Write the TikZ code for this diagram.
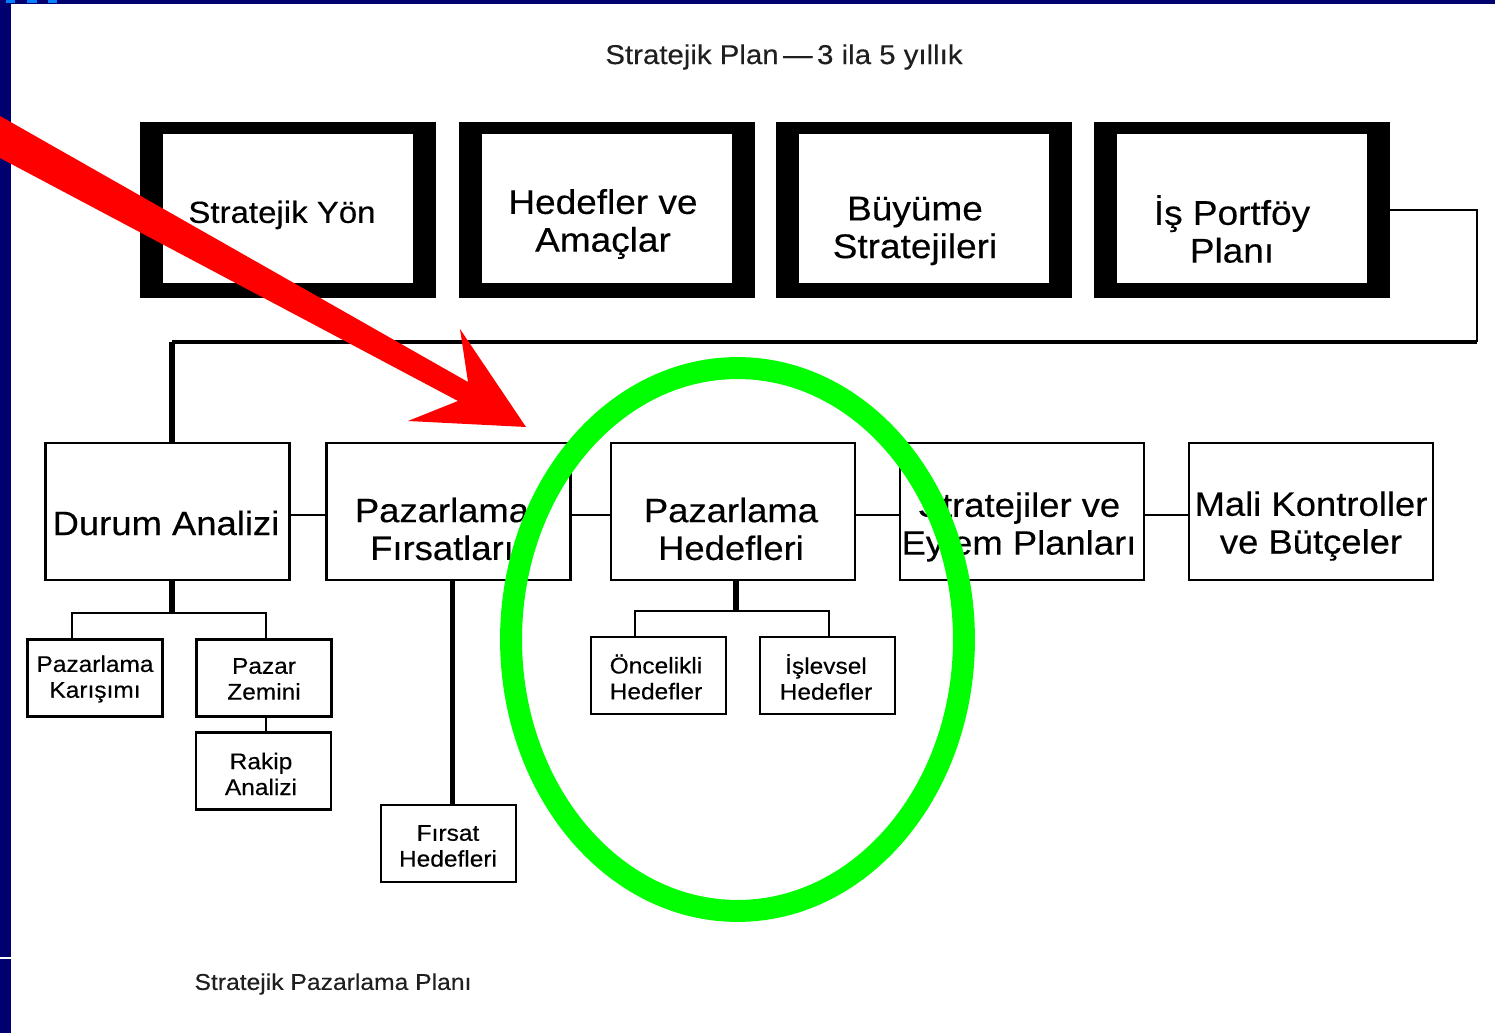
\documentclass[tikz,border=0pt]{standalone}
\usepackage{fontspec}
\newfontfamily\af{Liberation Sans}[FakeStretch=1.08, FakeBold=0.3]
\definecolor{navy}{RGB}{0,0,110}
\definecolor{lblue}{RGB}{0,128,255}
\definecolor{gr}{RGB}{0,255,0}
\begin{document}
\begin{tikzpicture}[x=0.02cm,y=-0.02cm,
 outerbox/.style={fill=black, inner sep=0, outer sep=0, minimum width=5.92cm, minimum height=3.52cm},
 innerbox/.style={fill=white, inner sep=0, outer sep=0, minimum width=5.0cm, minimum height=2.98cm},
 midbox/.style={draw=black, line width=1.6pt, fill=white, inner sep=0, outer sep=0, minimum width=4.88cm, minimum height=2.74cm},
 smallbox/.style={draw=black, line width=1.4pt, fill=white, inner sep=0, outer sep=0, minimum width=2.7cm, minimum height=1.54cm},
 tone/.style={font=\af\fontsize{17.4}{21.5}\selectfont, align=center, inner sep=0},
 tonebig/.style={font=\af\fontsize{19.5}{21.5}\selectfont, align=center, inner sep=0},
 ttwo/.style={font=\af\fontsize{19.2}{21.5}\selectfont, align=center, inner sep=0},
 tthree/.style={font=\af\fontsize{12.9}{14.7}\selectfont, align=center, inner sep=0},
 ttitle/.style={font=\af\fontsize{15.5}{18}\selectfont, inner sep=0, text=black!88},
 tbottom/.style={font=\af\fontsize{13}{15}\selectfont, inner sep=0, text=black!88},
 conn/.style={line width=1.6pt, black},
 mconn/.style={line width=2.2pt, black},
 thickconn/.style={line width=3.2pt, black},
]
\useasboundingbox (0,0) rectangle (1495,1033);
\fill[white] (0,0) rectangle (1495,1033);

% title
\node[ttitle] (title) at (784,57) {Stratejik Plan\,—\,3 ila 5 yıllık};
\node[tbottom] (bottom) at (333,984) {Stratejik Pazarlama Planı};

% top row: thick boxes
\foreach \n/\x in {p1/288, p2/607, p3/924, p4/1242}{
  \node[outerbox] (\n) at (\x,210) {};
  \node[innerbox] (\n in) at (\x,208.5) {};
}
\node[tone] (p1t) at (282,215) {Stratejik Yön};
\node[tonebig] (p2t) at (603,224) {Hedefler ve\\Amaçlar};
\node[tonebig] (p3t) at (915,231) {Büyüme\\Stratejileri};
\node[tonebig] (p4t) at (1232,229) {İş Portföy\\Planı};

% second row
\node[midbox] (durum) at (167.5,511.5) {};
\node[midbox] (firs) at (448.5,511.5) {};
\node[midbox] (hed) at (733,511.5) {};
\node[midbox] (strat) at (1022,511.5) {};
\node[midbox] (mali) at (1311,511.5) {};
\node[ttwo] (durumt) at (166,523) {Durum Analizi};
\node[ttwo] (first) at (442,529) {Pazarlama\\Fırsatları};
\node[ttwo] (hedt) at (731,529) {Pazarlama\\Hedefleri};
\node[ttwo] (stratt) at (1019,527) {Stratejiler ve\\Eylem Planları};
\node[ttwo] (malit) at (1311,526) {Mali Kontroller\\ve Bütçeler};

% small boxes
\node[smallbox] (karisim) at (95,678) {};
\node[smallbox] (zemin) at (264,678) {};
\node[smallbox] (rakip) at (263.5,771) {};
\node[smallbox] (firsath) at (448.5,843.5) {};
\node[smallbox] (oncelikli) at (658.5,675.5) {};
\node[smallbox] (islevsel) at (827.5,675.5) {};
\node[tthree] (karisimt) at (95,679) {Pazarlama\\Karışımı};
\node[tthree] (zemint) at (264,679) {Pazar\\Zemini};
\node[tthree] (rakipt) at (261,774) {Rakip\\Analizi};
\node[tthree] (firsatht) at (448,846) {Fırsat\\Hedefleri};
\node[tthree] (oncelikit) at (656,677) {Öncelikli\\Hedefler};
\node[tthree] (islevselt) at (826,677) {İşlevsel\\Hedefler};

% connectors
\coordinate (c1) at (1477,342);
\coordinate (c2) at (172,342);
\coordinate (dtop) at (172,443);
\draw[conn] (p4.east) -| (c1);
\draw[mconn] (c1) -- (c2);
\draw[thickconn] (c2) -- (dtop);

\foreach \a/\b in {durum/firs, firs/hed, hed/strat, strat/mali}{
  \draw[conn] ([yshift=-0.07cm]\a.east) -- ([yshift=-0.07cm]\b.west);
}

\coordinate (dj) at (172,613);
\draw[thickconn] ([xshift=0.09cm]durum.south) -- (dj);
\draw[conn] ([xshift=-0.46cm]karisim.north) |- (dj) -| ([xshift=0.04cm]zemin.north);
\draw[conn] ([xshift=0.04cm]zemin.south) -- ([xshift=0.04cm]zemin.south |- rakip.north);

\draw[thickconn] ([xshift=0.08cm]firs.south) -- ([xshift=0.08cm]firsath.north);

\coordinate (hj) at (736,611);
\draw[thickconn] ([xshift=0.06cm]hed.south) -- (hj);
\draw[conn] ([xshift=-0.47cm]oncelikli.north) |- (hj) -| ([xshift=0.03cm]islevsel.north);

% green ellipse
\draw[gr, line width=12.5pt] (737.5,639.5) ellipse [x radius=4.53cm, y radius=5.43cm];

% frame
\fill[navy] (0,0) rectangle (1495,4);
\fill[navy] (0,0) rectangle (11,1033);
\fill[white] (0,957) rectangle (11,959);
\fill[lblue] (6,0) rectangle (15,3);
\fill[lblue] (27,0) rectangle (37,3);
\fill[lblue] (48,0) rectangle (57,3);

% red arrow
\fill[red] (0,116) -- (468,382) -- (460,329) -- (526,427) -- (408,421) -- (458,401) -- (0,158) -- cycle;
\end{tikzpicture}
\end{document}
